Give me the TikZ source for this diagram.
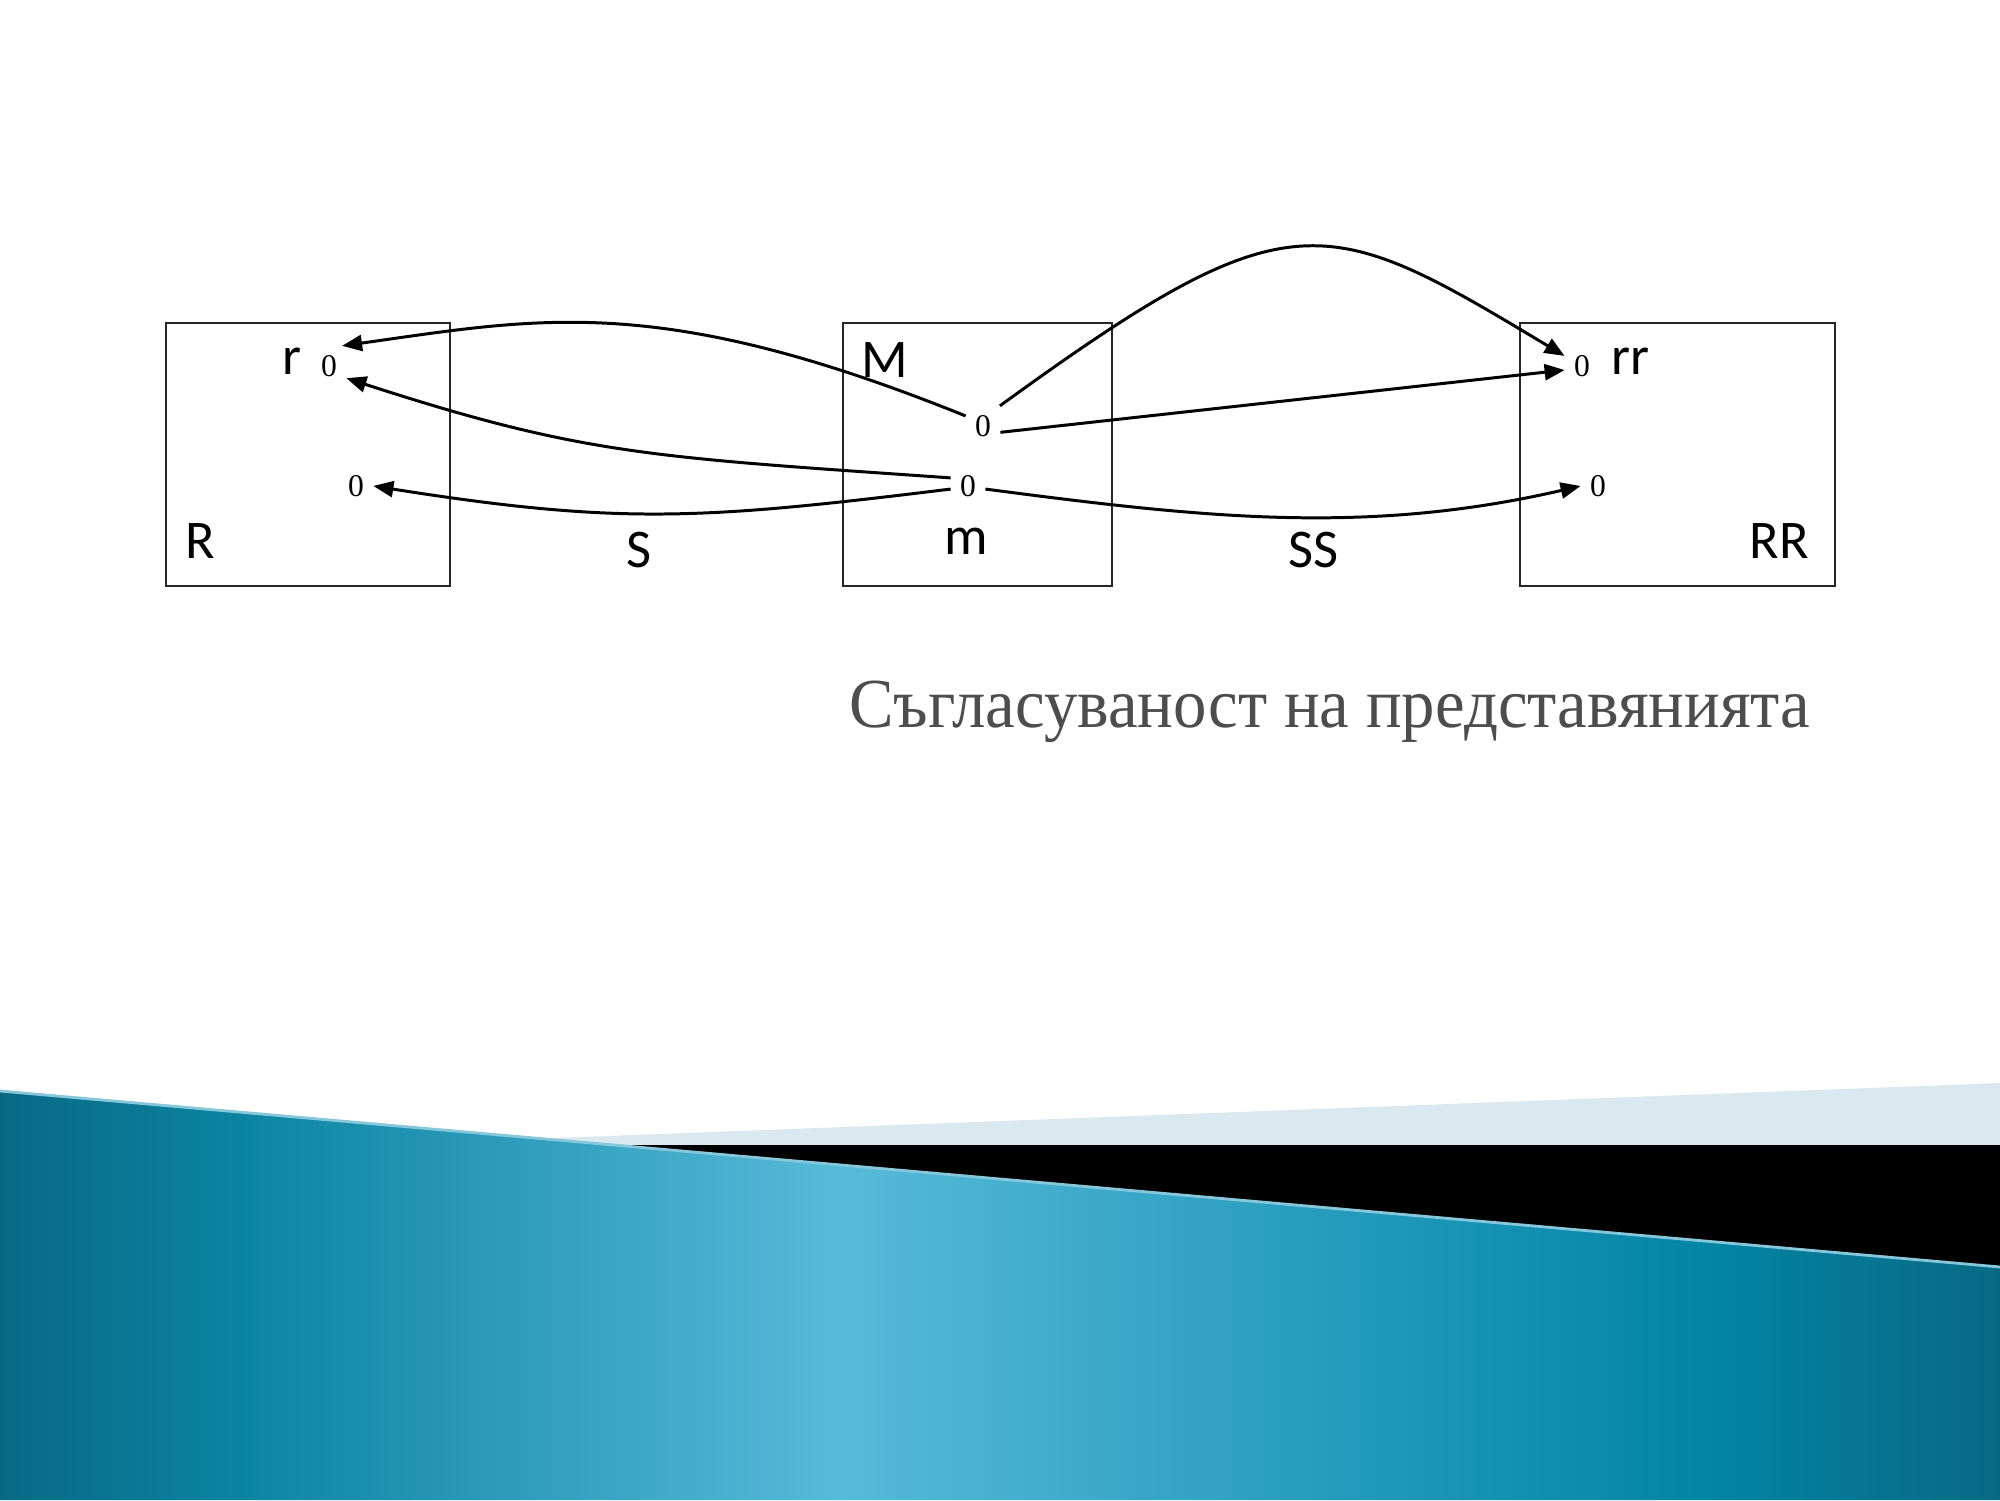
\documentclass[tikz,border=0pt]{standalone}
\usepackage{fontspec}
\setmainfont{Liberation Serif}
\newfontfamily\labelfont{Carlito}
\usepackage{xcolor}
\usetikzlibrary{arrows.meta, positioning}

\definecolor{tealdark}{HTML}{086984}
\definecolor{tealmid}{HTML}{0B84A2}
\definecolor{teallight}{HTML}{57BAD9}
\definecolor{tealsoft}{HTML}{1E97B8}
\definecolor{tealdeep}{HTML}{0385A5}
\definecolor{tealedge}{HTML}{86C7DB}
\definecolor{paleband}{HTML}{DAE9EF}
\definecolor{titlegray}{HTML}{4D4D4D}
\pgfdeclarehorizontalshading{tealband}{100bp}{color(0bp)=(tealdark); color(25bp)=(tealdark); color(31bp)=(tealmid); color(46bp)=(teallight); color(60bp)=(tealsoft); color(67.5bp)=(tealdeep); color(75bp)=(tealdark); color(100bp)=(tealdark)}

\begin{document}
\begin{tikzpicture}[
    box/.style={draw=black!85, line width=0.6pt, minimum height=2.63cm, anchor=south west, inner sep=0pt},
    lbl/.style={font=\labelfont\fontsize{15.5}{18}\selectfont, inner sep=0pt},
    zero/.style={font=\fontsize{9}{10}\selectfont, inner sep=2.5pt},
    map/.style={line width=0.85pt, -{Triangle[length=2mm,width=1.6mm]}}
]
    \useasboundingbox (0,0) rectangle (20,15);

    % bottom decoration
    \fill[paleband] (3.7,3.55) -- (20,4.17) -- (20,3.55) -- cycle;
    \fill[black] (5,3.55) rectangle (20,2);
    \shade[shading=tealband] (0,4.09) -- (20,2.33) -- (20,0) -- (0,0) -- cycle;
    \draw[tealedge, line width=0.8pt] (0,4.09) -- (20,2.33);

    % the three boxes
    \node[box, minimum width=2.845cm] (R) at (1.645,9.13) {};
    \node[box, minimum width=2.69cm] (M) at (8.42,9.13) {};
    \node[box, minimum width=3.15cm] (RR) at (15.19,9.13) {};

    % labels
    \node[lbl] (Rname) at (2.00,9.59) {R};
    \node[lbl] (rname) at (2.92,11.39) {r};
    \node[lbl] (Mname) at (8.85,11.40) {M};
    \node[lbl] (mname) at (9.66,9.59) {m};
    \node[lbl] (RRname) at (17.79,9.59) {RR};
    \node[lbl] (rrname) at (16.30,11.39) {rr};
    \node[lbl] (S) at (6.39,9.50) {S};
    \node[lbl] (SS) at (13.14,9.50) {SS};

    % points
    \node[zero] (r0) at (3.29,11.34) {0};
    \node[zero] (R0) at (3.56,10.14) {0};
    \node[zero] (m0up) at (9.83,10.74) {0};
    \node[zero] (m0low) at (9.68,10.14) {0};
    \node[zero] (rr0) at (15.82,11.34) {0};
    \node[zero] (RR0) at (15.98,10.14) {0};

    % maps to the left
    \draw[map] (m0up.150) .. controls +(158:3.3) and +(8:2) .. (r0.57);
    \draw[map] (m0low.155) .. controls +(176:3) and +(-18:2.5) .. (r0.-35);
    \draw[map] (m0low.190) .. controls +(187:2.5) and +(-9:2.5) .. (R0.east);
    % maps to the right
    \draw[map] (m0up.50) .. controls +(36:3.6) and +(149:2.8) .. (rr0.150);
    \draw[map] (m0up.-20) -- (rr0.193);
    \draw[map] (m0low.-10) .. controls +(-7.5:2.2) and +(193:2.2) .. (RR0.west);

    \node[font=\fontsize{20}{24}\selectfont, text=titlegray] (title) at (13.30,7.88) {\scalebox{0.95}[1]{Съгласуваност на представянията}};
\end{tikzpicture}
\end{document}
